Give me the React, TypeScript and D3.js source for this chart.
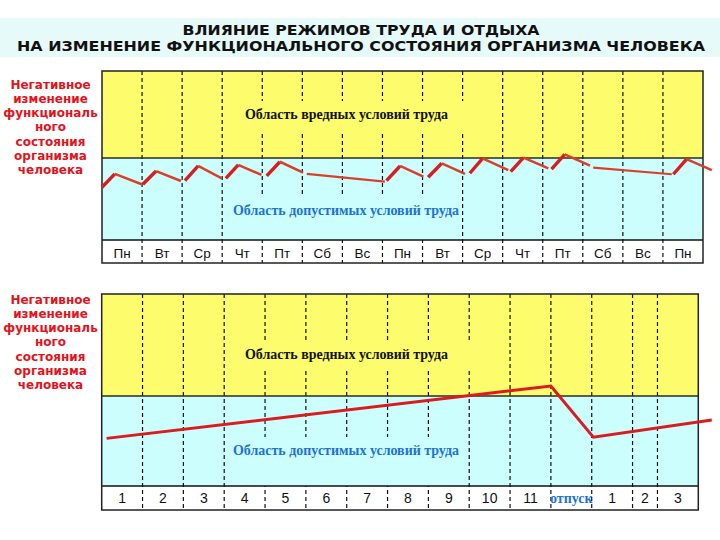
import React from "react";
import * as d3 from "d3";

// ---------- texts ----------
const titleLines = [
  "ВЛИЯНИЕ РЕЖИМОВ ТРУДА И ОТДЫХА",
  "НА ИЗМЕНЕНИЕ ФУНКЦИОНАЛЬНОГО СОСТОЯНИЯ ОРГАНИЗМА ЧЕЛОВЕКА",
];
const axisLabelLines = ["Негативное", "изменение", "функциональ", "ного", "состояния", "организма", "человека"];
const harmfulLabel = "Область вредных условий труда";
const allowedLabel = "Область допустимых условий труда";

// ---------- weekly chart data (x in days from start, y = negative change level 0..100) ----------
const weekDays = ["Пн", "Вт", "Ср", "Чт", "Пт", "Сб", "Вс", "Пн", "Вт", "Ср", "Чт", "Пт", "Сб", "Вс", "Пн"];
const weeklyCurve: [number, number][][] = [
  [[0.0, 31.2], [0.32, 39.1], [0.99, 33.0]],
  [[1.02, 33.0], [1.35, 40.8], [1.97, 34.9]],
  [[2.07, 35.1], [2.4, 43.8], [2.99, 36.5]],
  [[3.09, 36.5], [3.4, 44.4], [3.98, 38.5]],
  [[4.11, 37.9], [4.44, 46.3], [5.02, 39.8]],
  [[5.11, 39.1], [7.06, 34.5]],
  [[7.1, 35.1], [7.44, 43.8], [8.02, 37.5]],
  [[8.14, 37.1], [8.48, 45.4], [9.06, 39.1]],
  [[9.18, 39.5], [9.5, 48.3], [10.14, 41.4]],
  [[10.2, 40.4], [10.52, 48.7], [11.14, 42.4]],
  [[11.22, 42.0], [11.55, 50.7], [12.18, 44.0]],
  [[12.26, 42.8], [14.22, 38.9]],
  [[14.26, 38.9], [14.59, 47.9], [15.22, 41.4]],
];
const weeklyThreshold = 48.5;

// ---------- yearly chart data ----------
const periods = ["1", "2", "3", "4", "5", "6", "7", "8", "9", "10", "11", "отпуск", "1", "2", "3"];
const vacationLabel = "отпуск";
const yearlyCurve: [number, number][] = [
  [0.12, 24.8],
  [11.0, 52.1],
  [12.04, 25.4],
  [15.33, 34.4],
];
const yearlyThreshold = 46.9;

// ---------- layout ----------
const periodWidths = [1, 1, 1, 1, 1, 1, 1, 1, 1, 1, 1, 1, 1, 0.61, 1];

const YELLOW = "#fcfc6c";
const CYAN = "#ccfefe";
const RED_TEXT = "#e3121b";
const BLUE_TEXT = "#1c72d4";
const LINE_RED = "#d81c20";
const LINE_FALL = "#d8402a";

type PanelProps = {
  xScale: d3.ScaleLinear<number, number>;
  nCols: number;
  labels: string[];
  top: number;
  areaBottom: number;
  rowBottom: number;
  threshold: number;
  labelsBaseline: number;
  labelFontSize: number;
  labelTop: number;
  harmBox: [number, number, number, number];
  allowBox: [number, number, number, number];
  harmTextY: number;
  allowTextY: number;
  children: (y: d3.ScaleLinear<number, number>) => React.ReactNode;
};

function Panel(p: PanelProps) {
  const y = d3.scaleLinear().domain([0, 100]).range([p.areaBottom, p.top]);
  const left = p.xScale(0);
  const right = p.xScale(p.nCols);
  const mid = y(p.threshold);
  const cols = d3.range(1, p.nCols);
  return (
    <g>
      <rect x={left} y={p.top} width={right - left} height={mid - p.top} fill={YELLOW} />
      <rect x={left} y={mid} width={right - left} height={p.areaBottom - mid} fill={CYAN} />
      <rect x={left} y={p.areaBottom} width={right - left} height={p.rowBottom - p.areaBottom} fill="#ffffff" />
      {cols.map((c) => (
        <line
          key={c}
          x1={p.xScale(c)}
          x2={p.xScale(c)}
          y1={p.top}
          y2={p.rowBottom}
          stroke="#111"
          strokeWidth={1.2}
          strokeDasharray="4,3"
        />
      ))}
      <rect x={p.harmBox[0]} y={p.harmBox[1]} width={p.harmBox[2]} height={p.harmBox[3]} fill={YELLOW} />
      <rect x={p.allowBox[0]} y={p.allowBox[1]} width={p.allowBox[2]} height={p.allowBox[3]} fill={CYAN} />
      <text
        x={346.5}
        y={p.harmTextY}
        textAnchor="middle"
        fontFamily="'Liberation Serif', serif"
        fontWeight="bold"
        fontSize={14}
        textLength={203}
        lengthAdjust="spacingAndGlyphs"
        fill="#111"
      >
        {harmfulLabel}
      </text>
      <text
        x={346}
        y={p.allowTextY}
        textAnchor="middle"
        fontFamily="'Liberation Serif', serif"
        fontWeight="bold"
        fontSize={14}
        textLength={226}
        lengthAdjust="spacingAndGlyphs"
        fill={BLUE_TEXT}
      >
        {allowedLabel}
      </text>
      {p.labels.map((l, i) => {
        const isVac = l === vacationLabel;
        return (
          <text
            key={i}
            x={p.xScale(i + 0.5)}
            y={p.labelsBaseline}
            textAnchor="middle"
            fontFamily={isVac ? "'Liberation Serif', serif" : "'Liberation Sans', Arial, sans-serif"}
            fontWeight={isVac ? "bold" : "normal"}
            fontSize={isVac ? 14 : p.labelFontSize}
            fill={isVac ? BLUE_TEXT : "#111"}
          >
            {l}
          </text>
        );
      })}
      <line x1={left} x2={right} y1={mid} y2={mid} stroke="#2a2a2a" strokeWidth={1.5} />
      <line x1={left} x2={right} y1={p.areaBottom} y2={p.areaBottom} stroke="#111" strokeWidth={1.5} />
      <rect x={left} y={p.top} width={right - left} height={p.rowBottom - p.top} fill="none" stroke="#222" strokeWidth={1.5} />
      {axisLabelLines.map((t, i) => (
        <text
          key={i}
          x={50.5}
          y={p.labelTop + i * 14.3}
          textAnchor="middle"
          fontFamily="'DejaVu Sans', Verdana, sans-serif"
          fontWeight="bold"
          fontSize={12}
          fill={RED_TEXT}
        >
          {t}
        </text>
      ))}
      {p.children(y)}
    </g>
  );
}

export default function App() {
  const xTop = d3.scaleLinear().domain([0, weekDays.length]).range([102, 703]);

  const totalW = d3.sum(periodWidths);
  const edgesUnits = [0, ...d3.cumsum(periodWidths)];
  const xBottom = d3
    .scaleLinear()
    .domain(d3.range(periods.length + 1))
    .range(edgesUnits.map((e) => 101.7 + (e / totalW) * (698.3 - 101.7)));

  return (
    <svg
      width={720}
      height={540}
      style={{ position: "absolute", left: 0, top: 0, background: "#fff" }}
    >
      <rect x={0} y={18} width={720} height={39} fill="#e6fafa" />
      <text
        x={361}
        y={34.5}
        textAnchor="middle"
        fontFamily="'DejaVu Sans', Verdana, sans-serif"
        fontWeight="bold"
        fontSize={14}
        textLength={357}
        lengthAdjust="spacingAndGlyphs"
        fill="#111"
      >
        {titleLines[0]}
      </text>
      <text
        x={361}
        y={51}
        textAnchor="middle"
        fontFamily="'DejaVu Sans', Verdana, sans-serif"
        fontWeight="bold"
        fontSize={14}
        textLength={688}
        lengthAdjust="spacingAndGlyphs"
        fill="#111"
      >
        {titleLines[1]}
      </text>

      <Panel
        xScale={xTop}
        nCols={weekDays.length}
        labels={weekDays}
        top={71}
        areaBottom={240}
        rowBottom={263}
        threshold={weeklyThreshold}
        labelsBaseline={257.5}
        labelFontSize={13.5}
        labelTop={88.5}
        harmBox={[238, 101, 228, 30]}
        allowBox={[240, 197, 220, 43]}
        harmTextY={119}
        allowTextY={214.5}
      >
        {(y) =>
          weeklyCurve.map((seg, si) =>
            seg.slice(1).map((pt, k) => {
              const a = seg[k];
              const rising = pt[1] > a[1];
              return (
                <line
                  key={`${si}-${k}`}
                  x1={xTop(a[0])}
                  y1={y(a[1])}
                  x2={xTop(pt[0])}
                  y2={y(pt[1])}
                  stroke={rising ? LINE_RED : LINE_FALL}
                  strokeWidth={rising ? 3.4 : seg.length === 2 ? 2.2 : 2.5}
                  strokeLinecap="butt"
                />
              );
            })
          )
        }
      </Panel>

      <Panel
        xScale={xBottom}
        nCols={periods.length}
        labels={periods}
        top={294}
        areaBottom={486}
        rowBottom={510}
        threshold={yearlyThreshold}
        labelsBaseline={503}
        labelFontSize={14}
        labelTop={303.5}
        harmBox={[238, 340, 234, 30]}
        allowBox={[238, 437, 222, 49]}
        harmTextY={358.5}
        allowTextY={455}
      >
        {(y) => (
          <path
            d={
              d3
                .line<[number, number]>()
                .x((d) => xBottom(d[0]))
                .y((d) => y(d[1]))(yearlyCurve) || ""
            }
            fill="none"
            stroke={LINE_RED}
            strokeWidth={3}
            strokeLinejoin="miter"
          />
        )}
      </Panel>
    </svg>
  );
}
